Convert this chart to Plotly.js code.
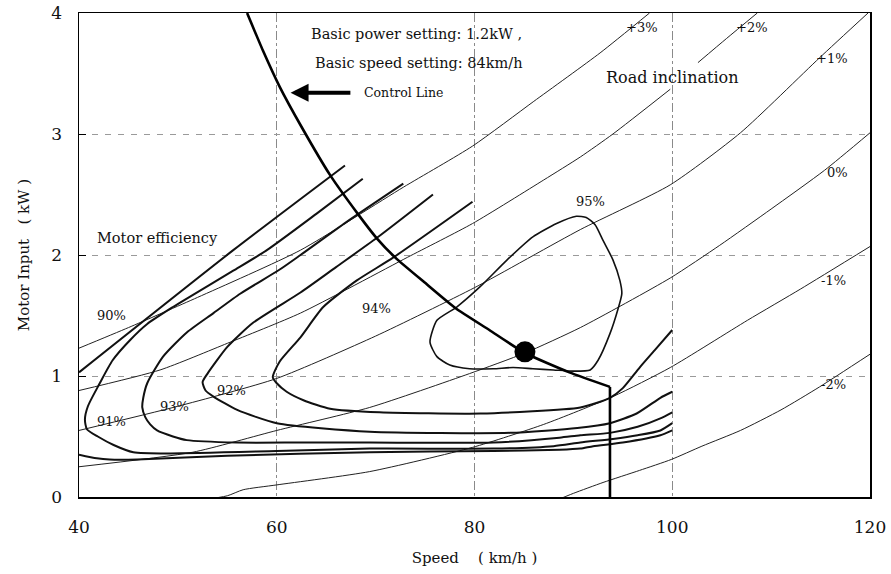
<!DOCTYPE html>
<html><head><meta charset="utf-8">
<script src="https://cdn.plot.ly/plotly-3.0.1.min.js"></script>
<style>html,body{margin:0;padding:0;background:#fff}#chart{width:891px;height:574px}</style>
</head><body><div id="chart"></div>
<script>
// ---- axes ----
const speedTicks = [40, 60, 80, 100, 120];
const powerTicks = [0, 1, 2, 3, 4];

// ---- road inclination curves (thin) ----
const incP3X = [40, 45, 52, 62.4, 72.8, 79.8, 86, 92.7, 97.7];
const incP3Y = [1.23, 1.40, 1.65, 2.04, 2.56, 2.90, 3.27, 3.67, 4.0];
const incP2X = [40, 48.2, 55, 62.4, 73.2, 79.8, 87, 90.7, 94, 99.8, null, 102.6, 105.5, 108.6];
const incP2Y = [0.88, 1.05, 1.27, 1.52, 1.98, 2.26, 2.62, 2.81, 3.0, 3.37, null, 3.59, 3.79, 4.0];
const incP1X = [40, 50, 60, 70, 80, 90.7, 99.8, 106.9, 114.9, 119.8];
const incP1Y = [0.55, 0.75, 0.98, 1.33, 1.73, 2.21, 2.58, 3.01, 3.63, 4.0];
const inc0X = [40, 51.5, 60, 69.4, 79.5, 85.1, 90.7, 99.8, 104.8, 110, 115.4, 120];
const inc0Y = [0.25, 0.37, 0.55, 0.74, 1.02, 1.19, 1.40, 1.81, 2.08, 2.38, 2.70, 3.01];
const incM1X = [52, 55, 56.6, 60, 69.4, 79.8, 87, 94, 99.8, 107.6, 113, 120];
const incM1Y = [-0.03, 0.01, 0.06, 0.10, 0.21, 0.41, 0.60, 0.83, 1.07, 1.46, 1.72, 2.07];
const incM2X = [87.9, 90, 93, 96.7, 99.9, 103, 106.9, 111, 114.9, 120];
const incM2Y = [-0.04, 0.03, 0.12, 0.22, 0.31, 0.42, 0.55, 0.72, 0.91, 1.18];

// ---- motor efficiency contours (thick) ----
const eff90UpX = [40, 55.6, 66.9];
const eff90UpY = [1.03, 2.04, 2.74];
const eff90LoX = [40, 41.8, 43.1, 45.9, 55, 69.4, 81.9, 88.6, 90.7, 92, 95, 98.8, 100];
const eff90LoY = [0.35, 0.32, 0.31, 0.31, 0.34, 0.37, 0.38, 0.39, 0.40, 0.42, 0.45, 0.51, 0.55];
const eff91X = [68.7, 64, 59, 55.6, 50.9, 49.5, 46.9, 45.2, 43.4, 42.1, 40.9, 40.6, 40.8, 41.9, 43.5, 45.5, 49.2, 60, 69.4, 81.9, 88, 90.7, 94, 96.5, 98.8, 100];
const eff91Y = [2.63, 2.34, 2.04, 1.87, 1.64, 1.57, 1.43, 1.30, 1.13, 0.94, 0.75, 0.64, 0.56, 0.50, 0.43, 0.37, 0.36, 0.38, 0.40, 0.40, 0.42, 0.45, 0.48, 0.51, 0.55, 0.61];
const eff93X = [72.8, 67, 62.4, 60.3, 56.3, 53.6, 50.9, 48.5, 46.9, 46.5, 46.4, 46.7, 47.2, 47.9, 49.5, 50.9, 56, 62.4, 69.4, 81.9, 88.6, 90.7, 93.7, 96.5, 98.8, 100];
const eff93Y = [2.59, 2.27, 2.0, 1.88, 1.68, 1.52, 1.36, 1.16, 0.94, 0.82, 0.74, 0.66, 0.60, 0.55, 0.50, 0.47, 0.45, 0.45, 0.45, 0.45, 0.49, 0.51, 0.53, 0.58, 0.65, 0.70];
const eff92X = [75.8, 70.1, 66, 62.4, 57.6, 55, 53, 52.5, 52.8, 53.6, 56, 60, 69.4, 83.6, 90.4, 93.7, 96.4, 98.8, 100];
const eff92Y = [2.50, 2.14, 1.90, 1.69, 1.44, 1.24, 1.02, 0.95, 0.88, 0.83, 0.72, 0.61, 0.54, 0.53, 0.57, 0.61, 0.69, 0.82, 0.87];
const eff94X = [79.8, 71.8, 68.1, 64.7, 62.4, 60.3, 59.6, 60, 61, 62.7, 65.4, 70.4, 80.6, 90.7, 93.7, 95, 96.7, 98.3, 100];
const eff94Y = [2.44, 1.98, 1.79, 1.57, 1.32, 1.12, 0.99, 0.94, 0.87, 0.80, 0.73, 0.70, 0.69, 0.74, 0.82, 0.90, 1.07, 1.22, 1.38];
const eff95X = [75.5, 76.2, 78.2, 80.6, 83.3, 85.9, 88.3, 90.3, 91.3, 92.2, 93.0, 94.0, 94.7, 94.9, 94.5, 93.7, 92.5, 91.7, 90.0, 88.0, 85.9, 83.9, 81.9, 79.5, 77.5, 76.2, 75.5];
const eff95Y = [1.28, 1.46, 1.57, 1.74, 1.96, 2.15, 2.26, 2.32, 2.31, 2.25, 2.12, 1.96, 1.79, 1.68, 1.55, 1.35, 1.13, 1.05, 1.04, 1.05, 1.06, 1.07, 1.06, 1.06, 1.09, 1.16, 1.28];

// ---- control line and operating point ----
const controlX = [57.0, 58.6, 60.3, 62.5, 65.4, 68.2, 70.1, 72.1, 75, 78.1, 81.5, 85.1, 89.6, 93.7];
const controlY = [4.0, 3.69, 3.39, 3.06, 2.66, 2.34, 2.14, 1.97, 1.77, 1.56, 1.38, 1.19, 1.03, 0.91];
const pointX = [85.1];
const pointY = [1.2];

// ---- labels ----
const incLabels = ['+3%', '+2%', '+1%', '0%', '-1%', '-2%'];
const incLabelX = [96.9, 108.1, 116.2, 116.7, 116.3, 116.3];
const incLabelY = [3.88, 3.88, 3.62, 2.68, 1.79, 0.93];
const effLabels = ['90%', '91%', '93%', '92%', '94%', '95%'];
const effLabelX = [43.3, 43.3, 49.7, 55.4, 70.1, 91.7];
const effLabelY = [1.50, 0.62, 0.75, 0.88, 1.56, 2.44];

const FONT = 'DejaVu Serif, Liberation Serif, serif';
const INK = '#111';

function thin(x, y) {
  return {x: x, y: y, type: 'scatter', mode: 'lines', hoverinfo: 'skip', connectgaps: false,
    line: {color: '#222', width: 1, shape: 'spline', smoothing: 0.6}};
}
function thick(x, y) {
  return {x: x, y: y, type: 'scatter', mode: 'lines', hoverinfo: 'skip',
    line: {color: INK, width: 2, shape: 'spline', smoothing: 0.6}};
}

const traces = [
  thin(incP3X, incP3Y), thin(incP2X, incP2Y), thin(incP1X, incP1Y),
  thin(inc0X, inc0Y), thin(incM1X, incM1Y), thin(incM2X, incM2Y),
  thick(eff90UpX, eff90UpY), thick(eff90LoX, eff90LoY), thick(eff91X, eff91Y),
  thick(eff93X, eff93Y), thick(eff92X, eff92Y), thick(eff94X, eff94Y),
  {x: eff95X, y: eff95Y, type: 'scatter', mode: 'lines', hoverinfo: 'skip',
   line: {color: INK, width: 1.6, shape: 'spline', smoothing: 0.6}},
  {x: controlX, y: controlY, type: 'scatter', mode: 'lines', hoverinfo: 'skip',
   line: {color: '#000', width: 2.6, shape: 'spline', smoothing: 0.5}},
  {x: [controlX[controlX.length - 1], controlX[controlX.length - 1]],
   y: [controlY[controlY.length - 1], -0.05], type: 'scatter', mode: 'lines', hoverinfo: 'skip', cliponaxis: false,
   line: {color: '#000', width: 2.6}},
  {x: pointX, y: pointY, type: 'scatter', mode: 'markers', hoverinfo: 'skip',
   marker: {color: '#000', size: 21}}
];

const annotations = [];
incLabels.forEach((t, i) => annotations.push({x: incLabelX[i], y: incLabelY[i], xref: 'x', yref: 'y', text: t,
  showarrow: false, font: {family: FONT, size: 13, color: INK}}));
effLabels.forEach((t, i) => annotations.push({x: effLabelX[i], y: effLabelY[i], xref: 'x', yref: 'y', text: t,
  showarrow: false, font: {family: FONT, size: 13, color: INK}}));
annotations.push(
  {x: 74.1, y: 3.83, xref: 'x', yref: 'y', text: 'Basic power setting: 1.2kW ,', showarrow: false,
   font: {family: FONT, size: 14.5, color: INK}},
  {x: 74.4, y: 3.59, xref: 'x', yref: 'y', text: 'Basic speed setting: 84km/h', showarrow: false,
   font: {family: FONT, size: 14.5, color: INK}},
  {x: 68.6, y: 3.34, xref: 'x', yref: 'y', xanchor: 'left', text: 'Control Line', showarrow: false,
   font: {family: FONT, size: 12.5, color: INK}},
  {x: 61.4, y: 3.34, xref: 'x', yref: 'y', ax: 67.6, ay: 3.34, axref: 'x', ayref: 'y', text: '',
   showarrow: true, arrowhead: 2, arrowsize: 0.9, arrowwidth: 4, arrowcolor: '#000'},
  {x: 100, y: 3.47, xref: 'x', yref: 'y', text: 'Road inclination', showarrow: false,
   font: {family: FONT, size: 16, color: INK}},
  {x: 41.6, y: 2.14, xref: 'x', yref: 'y', xanchor: 'left', text: 'Motor efficiency', showarrow: false,
   font: {family: FONT, size: 14.5, color: INK}}
);

const layout = {
  width: 891, height: 574,
  margin: {l: 79, r: 21, t: 13, b: 77},
  paper_bgcolor: '#fff', plot_bgcolor: '#fff',
  showlegend: false,
  font: {family: FONT, color: INK},
  xaxis: {
    range: [40, 120], tickvals: speedTicks, ticktext: speedTicks.map(String),
    showline: true, linecolor: '#000', linewidth: 1.5, mirror: true,
    showgrid: true, gridcolor: '#8a8a8a', griddash: 'dashdot', gridwidth: 1,
    zeroline: false, ticks: '', tickfont: {family: FONT, size: 17, color: INK},
    ticklabelstandoff: 14,
    title: {text: 'Speed &nbsp;&nbsp;&nbsp;( km/h )', font: {family: FONT, size: 15, color: INK}, standoff: 16}
  },
  yaxis: {
    range: [0, 4], tickvals: powerTicks, ticktext: powerTicks.map(String),
    showline: true, linecolor: '#000', linewidth: 1.5, mirror: true,
    showgrid: true, gridcolor: '#9a9a9a', griddash: '6px,7px', gridwidth: 1,
    zeroline: false, ticks: 'inside', ticklen: 7, tickcolor: '#000',
    tickfont: {family: FONT, size: 17, color: INK},
    ticklabelstandoff: 12,
    title: {text: 'Motor Input &nbsp;&nbsp;( kW )', font: {family: FONT, size: 15, color: INK}, standoff: 18}
  },
  annotations: annotations
};

Plotly.newPlot('chart', traces, layout, {displayModeBar: false, staticPlot: true});
</script>
</body></html>
